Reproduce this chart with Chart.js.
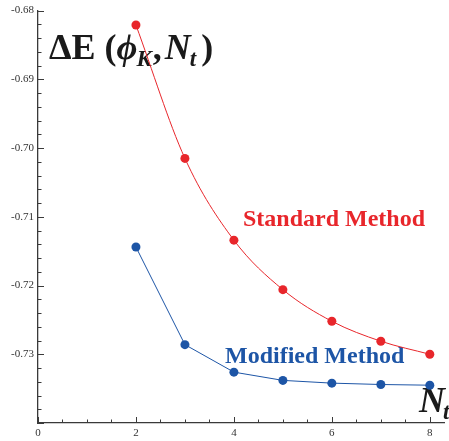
<!DOCTYPE html>
<html>
<head>
<meta charset="utf-8">
<script src="https://cdn.jsdelivr.net/npm/chart.js@4"></script>
<style>
html,body{margin:0;padding:0;background:#fff;}
#wrap{width:449px;height:441px;position:relative;}
</style>
</head>
<body>
<div id="wrap"><canvas id="c" width="449" height="441"></canvas></div>
<script>
const nt = [2, 3, 4, 5, 6, 7, 8];
const standardMethod = [-0.6821, -0.7015, -0.7134, -0.7206, -0.7252, -0.7281, -0.7300];
const modifiedMethod = [-0.7144, -0.7286, -0.7326, -0.7338, -0.7342, -0.7344, -0.7345];
const yTickLabels = [-0.68, -0.69, -0.70, -0.71, -0.72, -0.73];
const xTickLabels = [0, 2, 4, 6, 8];
const seriesNames = ['Standard Method', 'Modified Method'];

const RED = '#e8262b';
const BLUE = '#1d55a6';
const AXIS = '#3a3a3a';

function toPts(xs, ys){ return xs.map((x,i)=>({x:x, y:ys[i]})); }

const decor = {
  id: 'decor',
  beforeDatasetsDraw(chart){
    const ctx = chart.ctx;
    const xs = chart.scales.x, ys = chart.scales.y;
    ctx.save();
    ctx.strokeStyle = AXIS;
    ctx.lineWidth = 1;
    // inward ticks on y axis
    const x0 = xs.getPixelForValue(0);
    for (let i = 0; i <= 30; i++) {
      const v = -0.74 + i * 0.002;
      const py = Math.round(ys.getPixelForValue(v)) + 0.5;
      const major = i % 5 === 0;
      ctx.beginPath();
      ctx.moveTo(x0, py);
      ctx.lineTo(x0 + (major ? 6 : 3.5), py);
      ctx.stroke();
    }
    // inward ticks on x axis
    const y0 = ys.getPixelForValue(-0.74);
    for (let i = 0; i <= 16; i++) {
      const v = i * 0.5;
      const px = Math.round(xs.getPixelForValue(v)) + 0.5;
      const major = i % 4 === 0;
      ctx.beginPath();
      ctx.moveTo(px, y0);
      ctx.lineTo(px, y0 - (major ? 6 : 3.5));
      ctx.stroke();
    }
    // title ΔE (ϕK,Nt)
    ctx.fillStyle = '#1a1a1a';
    ctx.textBaseline = 'alphabetic';
    let tx = 49, ty = 59;
    const big = 'bold 36px "Liberation Serif"';
    const bigI = 'italic bold 36px "Liberation Serif"';
    const sub = 'italic bold 23px "Liberation Serif"';
    function put(str, font, dy, extra){
      ctx.font = font;
      ctx.fillText(str, tx, ty + (dy||0));
      tx += ctx.measureText(str).width + (extra||0);
    }
    put('ΔE (', big);
    put('ϕ', bigI, 0, -1);
    put('K', sub, 7, 1);
    put(',', big, 0, 3);
    put('N', bigI, 0, -1);
    put('t', sub, 7, 5);
    put(')', big);
    // N_t axis label
    tx = 419; ty = 412;
    put('N', bigI, 0, -2);
    put('t', sub, 7);
    // series labels
    ctx.font = 'bold 24px "Liberation Serif"';
    ctx.fillStyle = RED;
    ctx.fillText(seriesNames[0], 243, 226);
    ctx.fillStyle = BLUE;
    ctx.fillText(seriesNames[1], 225, 363);
    ctx.restore();
  }
};

new Chart(document.getElementById('c'), {
  type: 'line',
  data: {
    datasets: [
      {
        label: seriesNames[0],
        data: toPts(nt, standardMethod),
        borderColor: RED, backgroundColor: RED,
        borderWidth: 1, pointRadius: 4.5, pointBorderWidth: 0,
        cubicInterpolationMode: 'monotone'
      },
      {
        label: seriesNames[1],
        data: toPts(nt, modifiedMethod),
        borderColor: BLUE, backgroundColor: BLUE,
        borderWidth: 1, pointRadius: 4.5, pointBorderWidth: 0,
        tension: 0
      }
    ]
  },
  options: {
    responsive: false,
    animation: false,
    devicePixelRatio: 1,
    clip: false,
    layout: { padding: { top: 10, right: 0, left: 0, bottom: 0 } },
    plugins: { legend: { display: false }, tooltip: { enabled: false } },
    scales: {
      x: {
        type: 'linear', min: 0, max: 8.3,
        afterFit(s){ s.height = 18; },
        grid: { display: false, drawTicks: false },
        border: { display: true, color: AXIS, width: 1.3 },
        afterBuildTicks(s){ s.ticks = xTickLabels.map(v => ({ value: v })); },
        ticks: {
          padding: 4, color: '#333',
          font: { family: '"Liberation Serif"', size: 11 },
          callback: v => String(v)
        }
      },
      y: {
        type: 'linear', min: -0.74, max: -0.68,
        afterFit(s){ s.width = 38; },
        grid: { display: false, drawTicks: false },
        border: { display: true, color: AXIS, width: 1.3 },
        afterBuildTicks(s){ s.ticks = yTickLabels.map(v => ({ value: v })); },
        ticks: {
          padding: 4, color: '#333',
          font: { family: '"Liberation Serif"', size: 11 },
          callback: v => v.toFixed(2)
        }
      }
    }
  },
  plugins: [decor]
});
</script>
</body>
</html>
